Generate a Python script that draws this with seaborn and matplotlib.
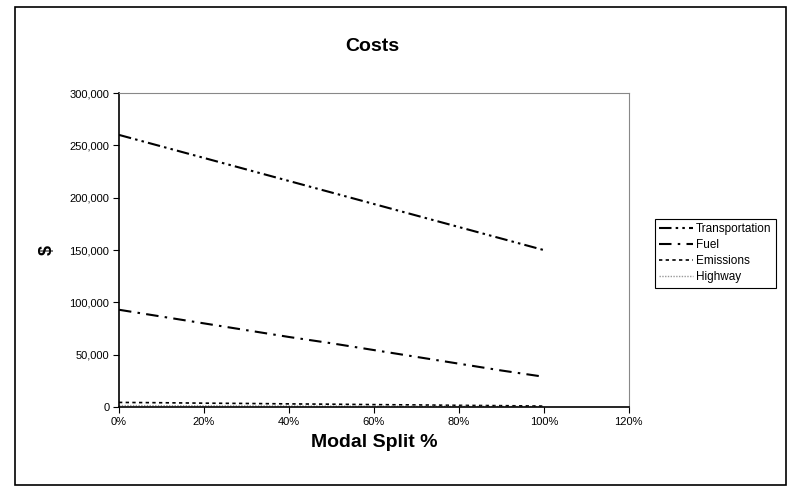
import matplotlib
matplotlib.use("Agg")
import matplotlib.pyplot as plt
import matplotlib.font_manager as fm
import seaborn as sns
import pandas as pd
from matplotlib.ticker import FuncFormatter, PercentFormatter
from matplotlib.patches import Rectangle

modal_split = [0.0, 0.1, 0.2, 0.3, 0.4, 0.5, 0.6, 0.7, 0.8, 0.9, 1.0]
transportation = [260000, 249000, 238000, 227000, 216000, 205000, 194000, 183000, 172000, 161000, 150000]
fuel = [93000, 86500, 80000, 73500, 67000, 61000, 54500, 48000, 41500, 35000, 29000]
emissions = [4500, 4200, 3800, 3500, 3100, 2800, 2400, 2100, 1700, 1400, 1000]
highway = [1500, 1400, 1300, 1200, 1100, 1000, 900, 800, 700, 600, 500]
series_names = ["Transportation", "Fuel", "Emissions", "Highway"]
x_ticks = [0, 0.2, 0.4, 0.6, 0.8, 1.0, 1.2]
y_ticks = [0, 50000, 100000, 150000, 200000, 250000, 300000]

rows = []
for name, vals in zip(series_names, [transportation, fuel, emissions, highway]):
    for x, v in zip(modal_split, vals):
        rows.append({"Modal Split": x, "Cost": v, "Series": name})
df = pd.DataFrame(rows)

# avoid the condensed variant being picked
fm.fontManager.ttflist = [f for f in fm.fontManager.ttflist if "Narrow" not in f.fname]

sns.set_style("white")
plt.rcParams["font.family"] = ["Liberation Sans", "DejaVu Sans"]
plt.rcParams["text.color"] = "black"
plt.rcParams["axes.labelcolor"] = "black"
plt.rcParams["xtick.color"] = "black"
plt.rcParams["ytick.color"] = "black"

fig = plt.figure(figsize=(7.88, 4.87), dpi=100)
ax = fig.add_axes([0.151, 0.164, 0.647, 0.645])

palette = {"Transportation": "black", "Fuel": "black", "Emissions": "black", "Highway": "#999999"}
dashes = {"Transportation": (6, 2, 1.2, 2, 1.2, 2),
          "Fuel": (6, 3, 1.2, 3),
          "Emissions": (2, 2),
          "Highway": (1, 1)}
sizes = {"Transportation": 1.5, "Fuel": 1.5, "Emissions": 1.2, "Highway": 1.0}

sns.lineplot(data=df, x="Modal Split", y="Cost", hue="Series", style="Series",
             size="Series", sizes=sizes, palette=palette, dashes=dashes,
             hue_order=series_names, style_order=series_names, size_order=series_names,
             ax=ax, legend=True)

ax.set_xlim(0, 1.2)
ax.set_ylim(0, 300000)
ax.set_xticks(x_ticks)
ax.set_yticks(y_ticks)
ax.xaxis.set_major_formatter(PercentFormatter(1.0, decimals=0))
ax.yaxis.set_major_formatter(FuncFormatter(lambda v, p: f"{int(v):,}"))
ax.tick_params(axis="both", labelsize=8, length=4, width=0.8, direction="out",
               bottom=True, left=True, pad=3, colors="black")
for s in ["left", "bottom"]:
    ax.spines[s].set_color("black")
    ax.spines[s].set_linewidth(1.2)
for s in ["top", "right"]:
    ax.spines[s].set_color("#888888")
    ax.spines[s].set_linewidth(0.8)
    ax.spines[s].set_linestyle((0, (1, 1)))

ax.set_xlabel("Modal Split %", fontsize=14, fontweight="bold", labelpad=5, color="black")
ax.set_ylabel("$", fontsize=13, fontweight="bold", labelpad=10, color="black")
fig.text(0.472, 0.905, "Costs", fontsize=14, fontweight="bold", ha="center", va="center",
         color="black")

handles, labels = ax.get_legend_handles_labels()
ax.legend(handles, labels, loc="center left", bbox_to_anchor=(0.831, 0.48),
          bbox_transform=fig.transFigure, fontsize=8.5, frameon=True, fancybox=False,
          edgecolor="black", framealpha=1, handlelength=2.9, handletextpad=0.25,
          borderpad=0.35, labelspacing=0.35, borderaxespad=0)
leg = ax.get_legend()
leg.get_frame().set_linewidth(0.8)
for t in leg.get_texts():
    t.set_color("black")

fig.patches.append(Rectangle((0.019, 0.004), 0.978, 0.982, transform=fig.transFigure,
                             fill=False, edgecolor="black", linewidth=1.2))

fig.savefig("out.png", dpi=100)
